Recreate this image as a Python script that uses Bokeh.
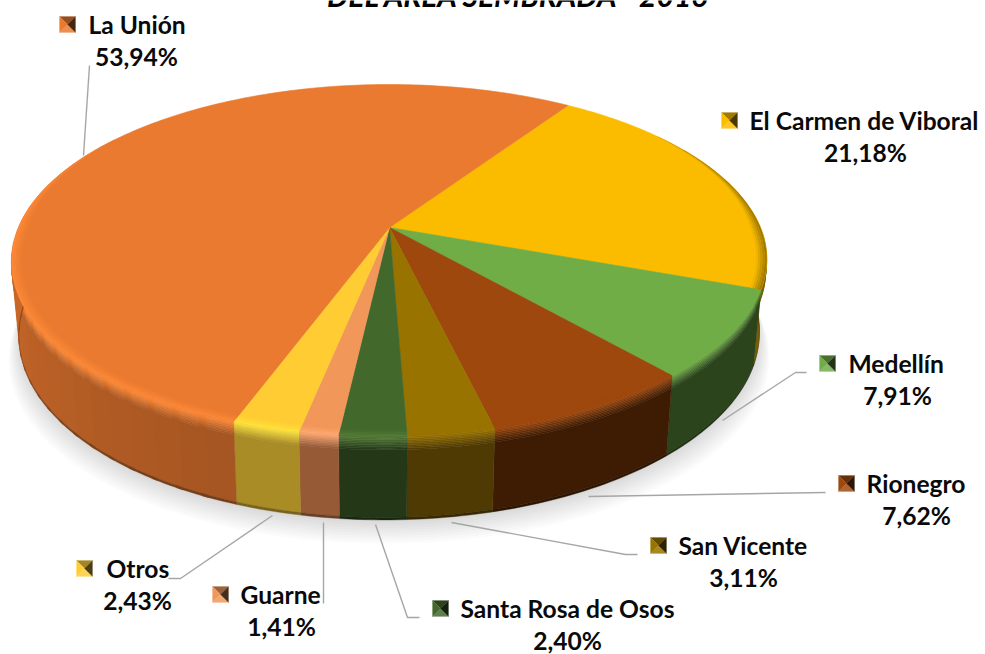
import math
from bokeh.plotting import figure
from bokeh.models import Range1d
from bokeh.core.properties import value
from bokeh.embed import file_html
from bokeh.resources import INLINE

# ---- data
categories = ["El Carmen de Viboral", "Medellín", "Rionegro", "San Vicente",
              "Santa Rosa de Osos", "Guarne", "Otros", "La Unión"]
shares = [21.18, 7.91, 7.62, 3.11, 2.40, 1.41, 2.43, 53.94]
labels = ["21,18%", "7,91%", "7,62%", "3,11%", "2,40%", "1,41%", "2,43%", "53,94%"]
title_text = "DEL ÁREA SEMBRADA - 2016"

# ---- styles
top_colors = [(251, 188, 0), (112, 173, 71), (158, 72, 14), (153, 115, 0),
              (67, 104, 43), (241, 151, 90), (255, 205, 51), (233, 122, 48)]
wall_colors = [(125, 95, 0), (44, 68, 28), (62, 28, 3), (80, 58, 3),
               (36, 56, 24), (150, 90, 55), (170, 140, 38), (190, 98, 38)]
hi_colors = [(150, 115, 0), (112, 173, 71), (158, 72, 14), (153, 115, 0),
             (85, 125, 55), (255, 170, 115), (255, 228, 60), (255, 138, 55)]

# ---- layout in page pixels
W, H = 985, 654
CX, CY, RX, RY, K = 389, 227, 371, 169.8, 0.1875
START = 33.8
DEPTH, FX, FY = 73, 0.98, 1.05
SKEW = 5.0
FONT = "Lato"
FS = "24.6px"


def hexc(c):
    return "#%02x%02x%02x" % tuple(int(round(max(0, min(255, a)))) for a in c)


def mix(a, b, t):
    return tuple(x + (y - x) * t for x, y in zip(a, b))


def proj(deg, r=1.0, d=0.0):
    a = math.radians(deg)
    u, v = r * math.sin(a), r * math.cos(a)
    s = 1 / (1 + K * v)
    fx = 1 + (FX - 1) * d
    fy = 1 + (FY - 1) * d
    lean = SKEW * max(0.0, -v) ** 1.5
    return CX + RX * u * s * fx - lean, CY - RY * v * s * fy + DEPTH * d


def arc(a0, a1, r=1.0, d=0.0, step=1.0):
    n = max(2, int(abs(a1 - a0) / step) + 1)
    return [proj(a0 + (a1 - a0) * i / (n - 1), r, d) for i in range(n)]


spans = []
cur = START
for sh in shares:
    spans.append((cur, cur + sh * 3.6))
    cur += sh * 3.6

p = figure(width=W, height=H, x_range=Range1d(0, W), y_range=Range1d(H, 0),
           output_backend="svg", toolbar_location=None, min_border=0,
           outline_line_color=None, background_fill_color="white",
           margin=(0, 0, 0, 0))
p.axis.visible = False
p.grid.visible = False


def poly(pts, color, alpha=1.0, lw=0.6):
    p.patch([q[0] for q in pts], [q[1] for q in pts], fill_color=hexc(color),
            fill_alpha=alpha, line_color=hexc(color), line_alpha=alpha, line_width=lw)


# soft ground shadow
for i in range(9):
    grow = 1.0 + 0.0035 * i
    pts = []
    for j in range(0, 361, 3):
        x, y = proj(j, 1.0, 1.0)
        pts.append((CX + (x - CX) * grow, y + 3 + 2.6 * i))
    p.patch([q[0] for q in pts], [q[1] for q in pts], fill_color="#000000",
            fill_alpha=0.014, line_color=None)

VIS0, VIS1 = 60.0, 305.0


def wall_color(i, deg):
    if categories[i] == "La Unión":
        t = (deg - 200) / 80.0
        return mix((165, 85, 34), (208, 108, 42), max(0, min(1, t)))
    return wall_colors[i]


RAMP = [0.0, 0.02, 0.04, 0.06, 0.08, 0.10, 0.12, 0.14, 0.16]
for i, (a0, a1) in enumerate(spans):
    for off in (0, 360):
        b0, b1 = max(a0, VIS0 + off), min(a1, VIS1 + off)
        if b1 <= b0:
            continue
        gradient = categories[i] == "La Unión"
        nseg = max(1, int((b1 - b0) / 4)) if gradient else 1
        for s in range(nseg):
            c0 = b0 + (b1 - b0) * s / nseg
            c1 = b0 + (b1 - b0) * (s + 1) / nseg
            if s < nseg - 1:
                c1 = min(b1, c1 + 1.0)
            wc = wall_color(i, ((c0 + c1) / 2) % 360)
            for k in range(len(RAMP) - 1):
                t = (k + 0.5) / (len(RAMP) - 1)
                poly(arc(c0, c1, 1.0, RAMP[k]) + arc(c1, c0, 1.0, RAMP[k + 1]),
                     mix(hi_colors[i], wc, t), lw=0.4)
            poly(arc(c0, c1, 1.0, RAMP[-1]) + arc(c1, c0, 1.0, 0.97), wc, lw=0.4)
            poly(arc(c0, c1, 1.0, 0.97) + arc(c1, c0, 1.0, 1.0), mix(wc, (0, 0, 0), 0.3), lw=0.4)

# top faces
for i, (a0, a1) in enumerate(spans):
    poly([(CX, CY)] + arc(a0, a1), top_colors[i])


def ring_edge(a0, a1, frac):
    """Bevel edge: its width follows how far the rim faces the viewer."""
    n = max(2, int(abs(a1 - a0)) + 1)
    out = []
    for j in range(n):
        a = a0 + (a1 - a0) * j / (n - 1)
        v = math.cos(math.radians(a))
        w = max(0.0, min(1.0, (0.62 - v) / 0.62))
        out.append(proj(a, 1.0 - 0.028 * w * frac))
    return out


STEPS = 5
for i, (a0, a1) in enumerate(spans):
    for k in range(STEPS):
        f0 = 1 - k / STEPS
        f1 = 1 - (k + 1) / STEPS
        pts = ring_edge(a0, a1, f0) + ring_edge(a1, a0, f1)
        c = mix(top_colors[i], hi_colors[i], (k + 0.5) / STEPS)
        p.patch([q[0] for q in pts], [q[1] for q in pts], fill_color=hexc(c), line_color=None)

# leader lines
leaders = [
    [(89, 65), (83, 155)],
    [(722, 420), (795, 372), (806, 372)],
    [(588, 496), (825, 492)],
    [(451, 522), (625, 554), (637, 554)],
    [(375, 524), (407, 617), (419, 617)],
    [(323, 522), (323, 603)],
    [(272, 515), (180, 578), (168, 578)],
]
for pts in leaders:
    p.line([q[0] for q in pts], [q[1] for q in pts], line_color="#a6a6a6", line_width=1.4)

# key left edge, key centre y, name left edge, label centre x
label_layout = {
    "El Carmen de Viboral": (721, 120, 749, 865),
    "Medellín": (819, 363, 848, 897),
    "Rionegro": (838, 483, 866, 916),
    "San Vicente": (650, 545, 678, 743),
    "Santa Rosa de Osos": (432, 608, 460, 567),
    "Guarne": (212, 594, 240, 281),
    "Otros": (76, 568, 106, 137),
    "La Unión": (59, 24, 88, 136),
}
KEY = 16
for name, lab, top in zip(categories, labels, top_colors):
    kx, ky, nx, cx = label_layout[name]
    x0, x1, y0, y1 = kx, kx + KEY, ky - KEY / 2, ky + KEY / 2
    mx, my = (x0 + x1) / 2, (y0 + y1) / 2
    poly([(x0, y0), (x1, y0), (mx, my)], mix(top, (0, 0, 0), 0.35), lw=0.2)
    poly([(x0, y1), (x1, y1), (mx, my)], mix(top, (255, 255, 255), 0.15), lw=0.2)
    poly([(x0, y0), (x0, y1), (mx, my)], top, lw=0.2)
    poly([(x1, y0), (x1, y1), (mx, my)], mix(top, (0, 0, 0), 0.7), lw=0.2)
    p.text([nx], [ky], text=[name], text_font=value(FONT), text_font_style="bold",
           text_font_size=FS, text_color="#0a0a0a", text_align="left", text_baseline="middle")
    p.text([cx], [ky + 32], text=[lab], text_font=value(FONT), text_font_style="bold",
           text_font_size=FS, text_color="#0a0a0a", text_align="center", text_baseline="middle")

p.text([518.5], [-6], text=[title_text], text_font=value(FONT), text_font_style="bold italic",
       text_font_size="30px", text_color="#000000", text_align="center", text_baseline="middle")

open("out.html", "w").write(file_html(p, INLINE))
